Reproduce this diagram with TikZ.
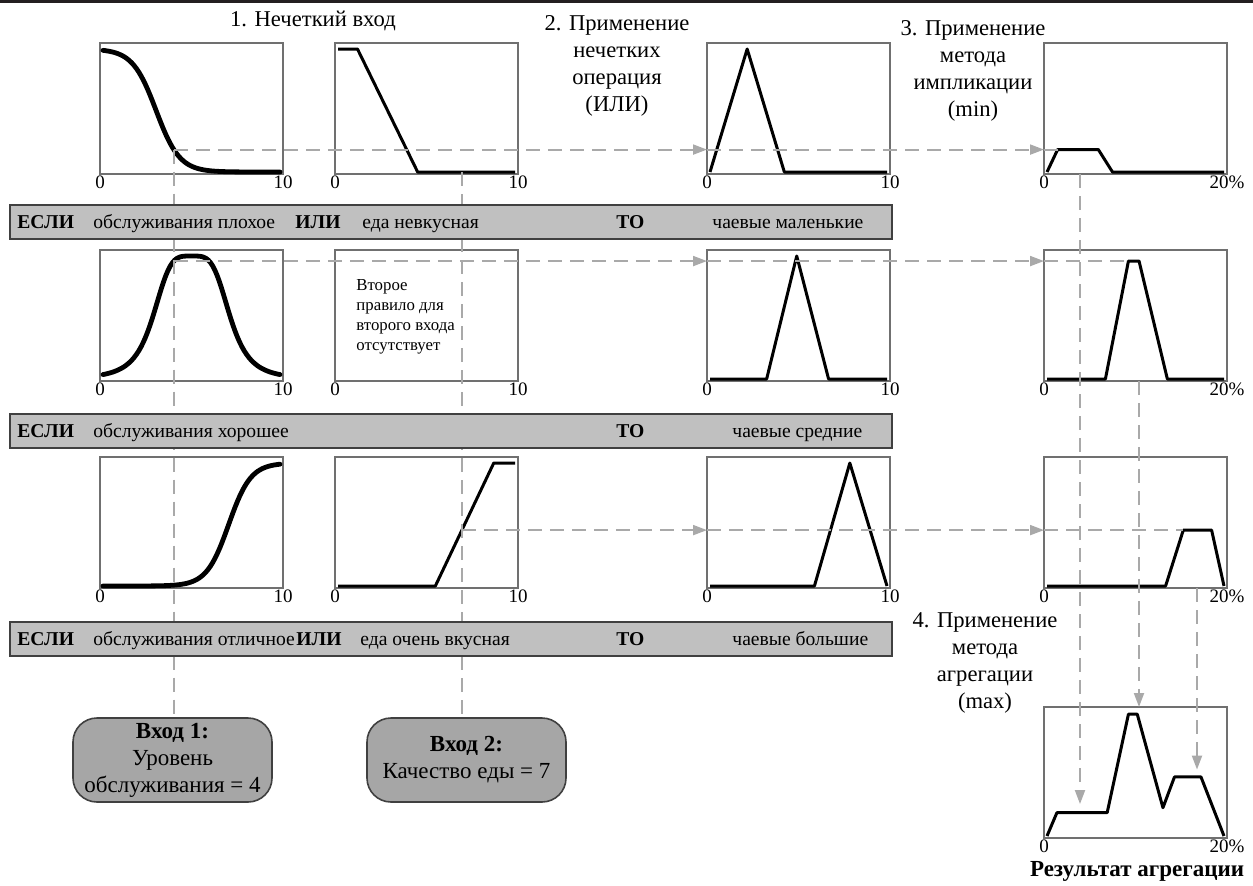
\documentclass[tikz,border=0pt]{standalone}
\usepackage{fontspec}
\setmainfont{Liberation Serif}
\usepackage{xcolor}
\usetikzlibrary{arrows.meta,positioning}
\definecolor{colorTop}{HTML}{231F20}
\definecolor{colorFrame}{HTML}{707070}
\definecolor{colorEdge}{HTML}{404040}
\definecolor{colorBar}{HTML}{C0C0C0}
\definecolor{colorInput}{HTML}{A6A6A6}
\definecolor{colorGuide}{HTML}{A9A9A9}

\begin{document}
\begin{tikzpicture}[x=0.5pt,y=-0.5pt,>={Triangle[length=7pt,width=5pt]},every node/.append style={align=center},
    box/.style={draw=colorFrame,line width=0.8pt,minimum width=91.5pt,minimum height=65.5pt,inner sep=0pt,outer sep=0pt},
    bar/.style={draw=colorEdge,fill=colorBar,line width=0.8pt,minimum width=441pt,minimum height=17pt,inner sep=0pt},
    inp/.style={draw=colorEdge,fill=colorInput,line width=0.8pt,rounded corners=12pt,minimum width=99.5pt,minimum height=42pt,inner sep=0pt,font=\fontsize{11.5}{13.5}\selectfont},
    ttl/.style={font=\fontsize{11.3}{13.5}\selectfont},
    tick/.style={font=\fontsize{9.5}{11}\selectfont,inner sep=0.5pt},
    rule/.style={font=\fontsize{9.8}{11}\selectfont,anchor=base west,inner sep=0pt},
    kw/.style={rule,font=\fontsize{9.8}{11}\selectfont\bfseries},
    guide/.style={draw=colorGuide,line width=1pt,dash pattern=on 7pt off 4pt},
    mf/.style={line width=1.5pt,line join=round},
    mfsmooth/.style={line width=2.4pt,line cap=round},
    plotarea/.style={shift={#1},xscale=17.7,yscale=-123}]
    \useasboundingbox (0,0) rectangle (1253,885);
    \fill[colorTop] (0,0) rectangle (1253,2.5);

    % step titles
    \node[ttl] (T1) at (313,21) {1. Нечеткий вход};
    \node[ttl] (T2) at (617,66) {2. Применение\\нечетких\\операция\\(ИЛИ)};
    \node[ttl] (T3) at (973,71) {3. Применение\\метода\\импликации\\(min)};
    \node[ttl] (T4) at (985,663) {4. Применение\\метода\\агрегации\\(max)};

    % plot frames
    \node[box] (A1) at (191.5,108.5) {};
    \node[box] (B1) at (426.5,108.5) {};
    \node[box] (C1) at (798.5,108.5) {};
    \node[box] (D1) at (1135.5,108.5) {};
    \node[box] (A2) at (191.5,315.5) {};
    \node[box] (B2) at (426.5,315.5) {};
    \node[box] (C2) at (798.5,315.5) {};
    \node[box] (D2) at (1135.5,315.5) {};
    \node[box] (A3) at (191.5,522.5) {};
    \node[box] (B3) at (426.5,522.5) {};
    \node[box] (C3) at (798.5,522.5) {};
    \node[box] (D3) at (1135.5,522.5) {};
    \node[box] (G) at (1135.5,772.5) {};

    \node[tick, below=0pt of A1.south west] (A1lo) {0}; \node[tick, below=0pt of A1.south east] (A1hi) {10};
    \node[tick, below=0pt of B1.south west] (B1lo) {0}; \node[tick, below=0pt of B1.south east] (B1hi) {10};
    \node[tick, below=0pt of C1.south west] (C1lo) {0}; \node[tick, below=0pt of C1.south east] (C1hi) {10};
    \node[tick, below=0pt of D1.south west] (D1lo) {0}; \node[tick, below=0pt of D1.south east] (D1hi) {20\%};
    \node[tick, below=0pt of A2.south west] (A2lo) {0}; \node[tick, below=0pt of A2.south east] (A2hi) {10};
    \node[tick, below=0pt of B2.south west] (B2lo) {0}; \node[tick, below=0pt of B2.south east] (B2hi) {10};
    \node[tick, below=0pt of C2.south west] (C2lo) {0}; \node[tick, below=0pt of C2.south east] (C2hi) {10};
    \node[tick, below=0pt of D2.south west] (D2lo) {0}; \node[tick, below=0pt of D2.south east] (D2hi) {20\%};
    \node[tick, below=0pt of A3.south west] (A3lo) {0}; \node[tick, below=0pt of A3.south east] (A3hi) {10};
    \node[tick, below=0pt of B3.south west] (B3lo) {0}; \node[tick, below=0pt of B3.south east] (B3hi) {10};
    \node[tick, below=0pt of C3.south west] (C3lo) {0}; \node[tick, below=0pt of C3.south east] (C3hi) {10};
    \node[tick, below=0pt of D3.south west] (D3lo) {0}; \node[tick, below=0pt of D3.south east] (D3hi) {20\%};
    \node[tick, below=0pt of G.south west] (Glo) {0}; \node[tick, below=0pt of G.south east] (Ghi) {20\%};
    \node[font=\fontsize{11.5}{13}\selectfont\bfseries] (Res) at (1137,871) {Результат агрегации};

    \node[font=\fontsize{8.4}{10}\selectfont, align=left, anchor=north west, inner sep=0pt] (Note) at (356,279) {Второе\\правило для\\второго входа\\отсутствует};

    % membership functions
    \begin{scope}[plotarea={(103,172)}]
        \draw[mfsmooth] plot[domain=0:10,samples=80] (\x,{1/(1+exp(min(1.5*(\x-3),9)))});
        \coordinate (in1) at (4,0.1824);
    \end{scope}
    \begin{scope}[plotarea={(338,172)}]
        \draw[mf] (0,1) -- (1.1,1) -- (4.5,0) -- (10,0);
        \coordinate (q2) at (7,0);
    \end{scope}
    \begin{scope}[plotarea={(710,172)}]
        \draw[mf] (0,0) -- (2.1,1) -- (4.2,0) -- (10,0);
    \end{scope}
    \begin{scope}[plotarea={(1047,172)}]
        \draw[mf] (0,0) -- (0.6,0.1824) -- (2.9,0.1824) -- (3.7,0) -- (10,0);
        \coordinate (k1) at (0.6,0.1824);
    \end{scope}
    \begin{scope}[plotarea={(103,379)}]
        \draw[mfsmooth] plot[domain=0:10,samples=80] (\x,{1/(1+((\x-5)*(\x-5)/4.84)^2)});
        \coordinate (in2) at (4,0.959);
    \end{scope}
    \begin{scope}[plotarea={(710,379)}]
        \draw[mf] (0,0) -- (3.2,0) -- (4.9,1) -- (6.7,0) -- (10,0);
    \end{scope}
    \begin{scope}[plotarea={(1047,379)}]
        \draw[mf] (0,0) -- (3.3,0) -- (4.6,0.959) -- (5.2,0.959) -- (6.8,0) -- (10,0);
        \coordinate (k2) at (4.6,0.959);
    \end{scope}
    \begin{scope}[plotarea={(103,586)}]
        \draw[mfsmooth] plot[domain=0:10,samples=80] (\x,{1/(1+exp(min(-1.6*(\x-7.1),9)))});
    \end{scope}
    \begin{scope}[plotarea={(338,586)}]
        \draw[mf] (0,0) -- (5.5,0) -- (8.8,1) -- (10,1);
        \coordinate (in3) at (7,0.4545);
    \end{scope}
    \begin{scope}[plotarea={(710,586)}]
        \draw[mf] (0,0) -- (5.9,0) -- (7.9,1) -- (10,0);
    \end{scope}
    \begin{scope}[plotarea={(1047,586)}]
        \draw[mf] (0,0) -- (6.7,0) -- (7.7,0.4545) -- (9.3,0.4545) -- (10,0);
        \coordinate (k3) at (7.7,0.4545);
    \end{scope}
    \begin{scope}[plotarea={(1047,836)}]
        \draw[mf] (0,0) -- (0.56,0.19) -- (3.4,0.19) -- (4.6,0.99) -- (5.1,0.99) -- (6.55,0.23) -- (7.2,0.48) -- (8.7,0.48) -- (10,0);
        \coordinate (g1) at (0,0.26);
        \coordinate (g3) at (0,0.54);
    \end{scope}

    % crisp inputs
    \node[inp] (E1) at (172.5,760) {\textbf{Вход 1:}\\Уровень\\обслуживания = 4};
    \node[inp] (E2) at (466.5,760) {\textbf{Вход 2:}\\Качество еды = 7};

    \draw[guide] (in1) -- (in1 |- E1.north);
    \draw[guide] (q2) -- (q2 |- E2.north);

    \draw[guide,->] (in1) -- (C1.west |- in1);
    \draw[guide,->] (C1.west |- in1) -- (D1.west |- in1);
    \draw[guide] (D1.west |- in1) -- (k1);
    \draw[guide,->] (in2) -- (C2.west |- in2);
    \draw[guide,->] (C2.west |- in2) -- (D2.west |- in2);
    \draw[guide] (D2.west |- in2) -- (k2);
    \draw[guide,->] (in3) -- (C3.west |- in3);
    \draw[guide,->] (C3.west |- in3) -- (D3.west |- in3);
    \draw[guide] (D3.west |- in3) -- (k3);

    \coordinate (o1) at ([xshift=18pt]D1.south west);
    \coordinate (o2) at ([xshift=47.5pt]D2.south west);
    \coordinate (o3) at ([xshift=76.5pt]D3.south west);
    \draw[guide,->] (o1) -- (o1 |- g1);
    \draw[guide,->] (o2) -- (o2 |- G.north);
    \draw[guide,->] (o3) -- (o3 |- g3);

    % rules
    \node[bar] (Bar1) at (451,222) {};
    \node[kw] (If1) at (17,228.5) {ЕСЛИ};
    \node[rule] (Serv1) at (93,228.5) {обслуживания плохое};
    \node[kw] (Or1) at (295,228.5) {ИЛИ};
    \node[rule] (Food1) at (362,228.5) {еда невкусная};
    \node[kw] (Then1) at (616,228.5) {ТО};
    \node[rule] (Tip1) at (712,228.5) {чаевые маленькие};

    \node[bar] (Bar2) at (451,431) {};
    \node[kw] (If2) at (17,437.5) {ЕСЛИ};
    \node[rule] (Serv2) at (93,437.5) {обслуживания хорошее};
    \node[kw] (Then2) at (616,437.5) {ТО};
    \node[rule] (Tip2) at (732,437.5) {чаевые средние};

    \node[bar] (Bar3) at (451,639) {};
    \node[kw] (If3) at (17,645.5) {ЕСЛИ};
    \node[rule] (Serv3) at (93,645.5) {обслуживания отличное};
    \node[kw] (Or3) at (296,645.5) {ИЛИ};
    \node[rule] (Food3) at (360,645.5) {еда очень вкусная};
    \node[kw] (Then3) at (616,645.5) {ТО};
    \node[rule] (Tip3) at (732,645.5) {чаевые большие};
\end{tikzpicture}
\end{document}
